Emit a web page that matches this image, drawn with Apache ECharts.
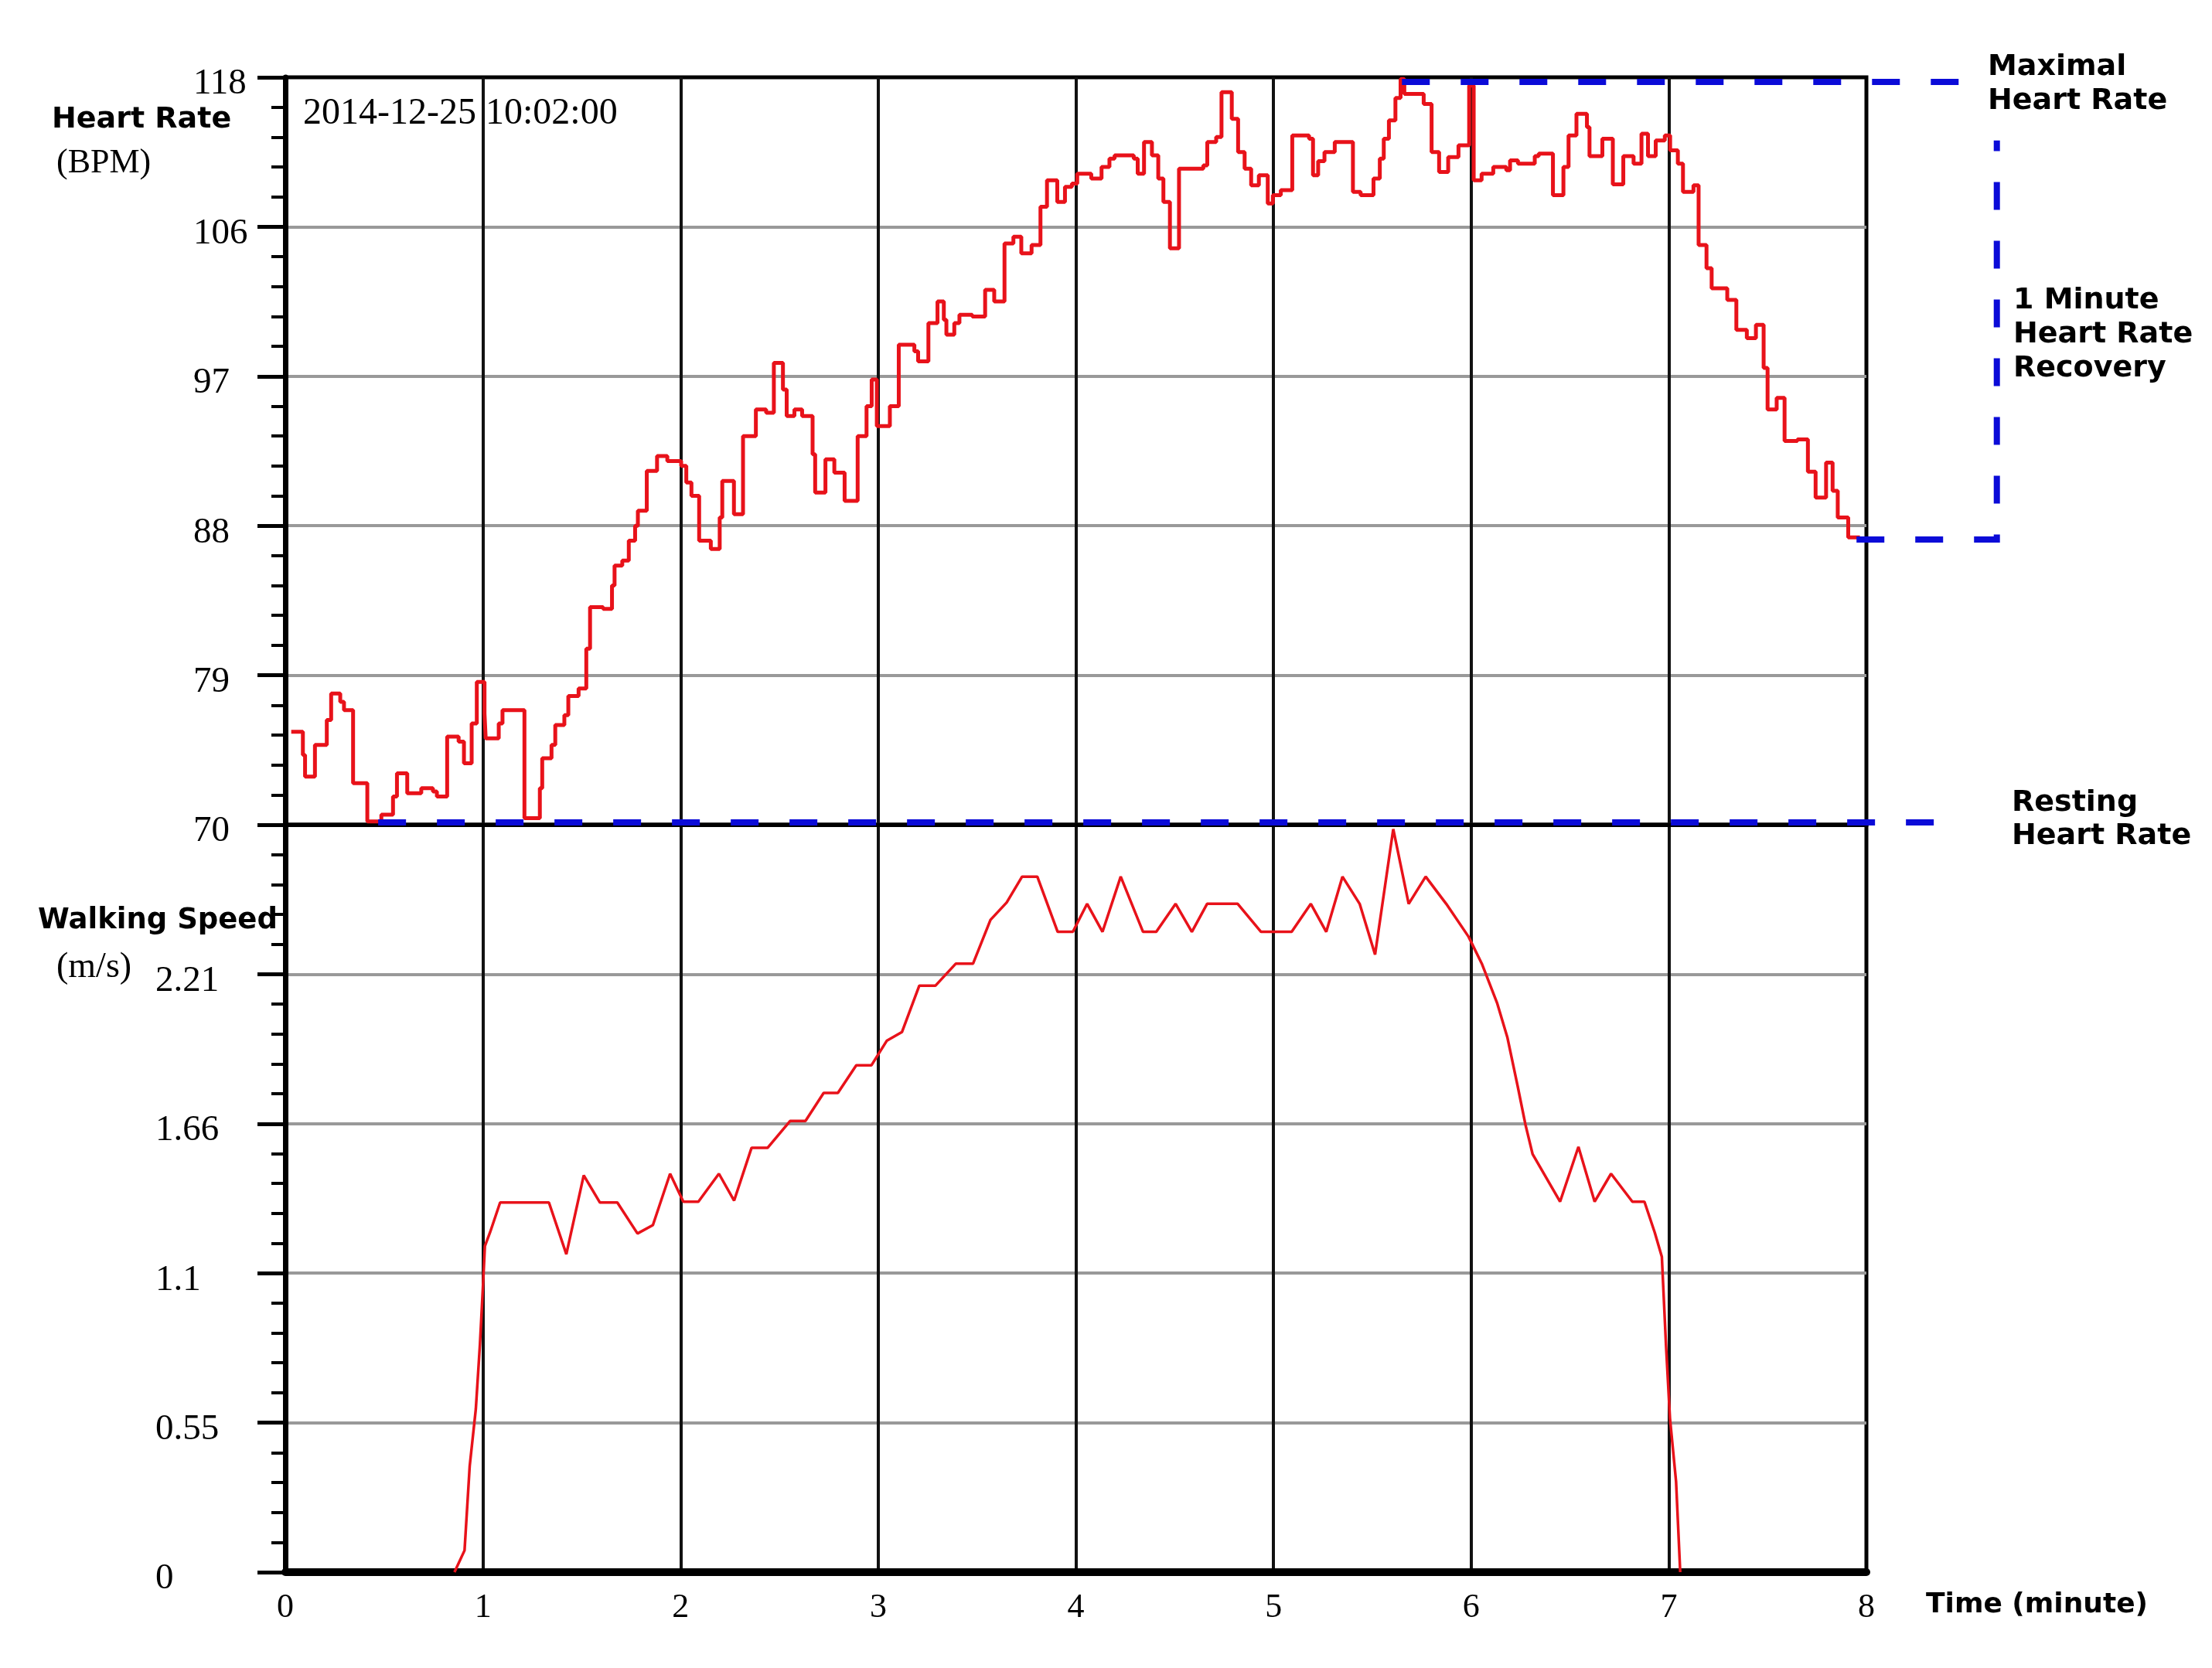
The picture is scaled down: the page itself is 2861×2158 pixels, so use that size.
<!DOCTYPE html>
<html><head><meta charset="utf-8">
<script src="https://cdn.jsdelivr.net/npm/echarts@6/dist/echarts.min.js"></script>
<style>html,body{margin:0;padding:0;background:#fff}#c{width:2861px;height:2158px}</style>
</head><body><div id="c"></div>
<script>
const timeTicks = ['0','1','2','3','4','5','6','7','8'];
const hrTickLabels = ['70','79','88','97','106','118'];
const speedTickLabels = ['0','0.55','1.1','1.66','2.21',''];

// Heart rate: step samples (start time in minutes, BPM)
const hrTime = [0.03,0.089,0.10,0.15,0.21,0.232,0.278,0.297,0.343,0.415,0.486,0.545,0.565,0.617,0.688,0.747,0.767,0.819,0.877,0.904,0.943,0.969,1.008,1.014,1.08,1.099,1.21,1.288,1.30,1.347,1.366,1.412,1.432,1.484,1.523,1.542,1.608,1.653,1.666,1.705,1.738,1.77,1.784,1.829,1.881,1.933,2.003,2.029,2.055,2.094,2.153,2.198,2.211,2.27,2.316,2.381,2.433,2.472,2.518,2.537,2.576,2.615,2.668,2.681,2.733,2.778,2.83,2.896,2.941,2.967,2.993,3.059,3.104,3.183,3.202,3.254,3.30,3.332,3.345,3.385,3.411,3.476,3.541,3.587,3.639,3.684,3.724,3.776,3.821,3.854,3.906,3.945,3.98,4.007,4.078,4.13,4.17,4.196,4.293,4.313,4.345,4.385,4.417,4.443,4.476,4.522,4.645,4.665,4.71,4.737,4.789,4.821,4.854,4.887,4.926,4.971,4.997,5.037,5.095,5.18,5.2,5.226,5.258,5.31,5.402,5.441,5.506,5.538,5.558,5.584,5.617,5.643,5.662,5.76,5.8,5.838,5.884,5.936,5.99,6.013,6.053,6.112,6.178,6.197,6.237,6.322,6.342,6.414,6.467,6.493,6.533,6.586,6.599,6.664,6.717,6.77,6.822,6.862,6.895,6.934,6.98,7.007,7.046,7.072,7.125,7.151,7.191,7.217,7.296,7.342,7.395,7.441,7.48,7.5,7.546,7.586,7.651,7.704,7.743,7.796,7.829,7.855,7.908,7.967];
const hrValue = [75.6,74.2,72.9,74.8,76.3,77.9,77.4,76.9,72.5,70.2,70.6,71.7,73.1,71.9,72.2,72.0,71.7,75.3,75.0,73.7,76.1,78.6,76.7,75.2,76.1,76.9,70.4,72.2,74.0,74.8,76.0,76.6,77.75,78.2,80.6,83.1,83.0,84.4,85.6,85.9,87.1,88.0,88.9,91.3,92.2,91.9,91.6,90.6,89.8,87.1,86.6,88.5,90.7,88.7,93.4,95.0,94.8,97.8,96.2,94.6,95.0,94.6,92.3,90.0,92.0,91.2,89.5,93.4,95.2,96.8,94.0,95.2,98.9,98.5,97.9,100.2,101.5,100.4,99.5,100.2,100.7,100.6,102.2,101.5,105.0,105.4,104.4,104.9,107.2,108.8,107.5,108.4,108.6,109.2,108.9,109.6,110.1,110.3,110.1,109.2,111.1,110.3,108.9,107.5,104.7,109.5,109.7,111.1,111.4,114.1,112.5,110.5,109.5,108.5,109.1,107.4,107.9,108.2,111.5,111.3,109.1,109.95,110.5,111.1,108.1,107.9,108.9,110.1,111.3,112.4,113.75,114.9,114.0,113.4,110.5,109.3,110.2,110.9,114.5,108.8,109.2,109.6,109.4,110.0,109.8,110.25,110.4,107.9,109.6,111.5,112.8,112.0,110.25,111.3,108.55,110.25,109.8,111.6,110.25,111.2,111.5,110.6,109.8,108.1,108.5,104.9,103.5,102.3,101.6,99.8,99.3,100.1,97.5,95.0,95.7,93.1,93.2,91.25,89.7,91.8,90.1,88.5,87.3,87.3];

// Walking speed (minutes, m/s)
const speedTime = [0.856,0.907,0.933,0.964,0.985,1.0,1.01,1.036,1.087,1.334,1.422,1.51,1.592,1.68,1.782,1.86,1.947,2.014,2.09,2.194,2.271,2.359,2.44,2.554,2.632,2.724,2.796,2.889,2.966,3.043,3.12,3.208,3.29,3.393,3.48,3.568,3.65,3.728,3.805,3.908,3.985,4.057,4.135,4.227,4.34,4.407,4.505,4.587,4.664,4.819,4.937,5.092,5.189,5.267,5.349,5.436,5.514,5.606,5.684,5.77,5.874,5.987,6.054,6.131,6.183,6.235,6.275,6.311,6.45,6.543,6.625,6.708,6.816,6.877,6.929,6.965,6.986,7.006,7.037,7.058];
const speedValue = [0,0.08,0.39,0.60,0.84,1.05,1.20,1.25,1.36,1.36,1.17,1.46,1.36,1.36,1.246,1.277,1.466,1.363,1.363,1.466,1.367,1.561,1.561,1.66,1.66,1.763,1.763,1.865,1.865,1.955,1.987,2.158,2.158,2.239,2.239,2.40,2.464,2.559,2.559,2.356,2.356,2.459,2.356,2.559,2.356,2.356,2.459,2.356,2.459,2.459,2.356,2.356,2.459,2.356,2.559,2.459,2.272,2.734,2.459,2.559,2.459,2.338,2.239,2.095,1.969,1.79,1.646,1.538,1.363,1.565,1.363,1.466,1.363,1.363,1.25,1.16,0.836,0.567,0.333,0];

// Reference lines (minutes, BPM)
const maxHRLine = [[5.65,114.72],[8.5,114.72]];
const restHRLine = [[0.47,70.14],[8.47,70.14]];
const recoveryLine = [[7.95,87.17],[8.66,87.17],[8.66,111.2]];

const hrData = hrTime.map((t,i)=>[t,hrValue[i]]);
const speedData = speedTime.map((t,i)=>[t,speedValue[i]]);

const BLUE = '#0b0bd8';
const RED = '#e8121a';
const serif = '"Liberation Serif","Times New Roman",serif';
const sans = '"DejaVu Sans",Verdana,sans-serif';

const chart = echarts.init(document.getElementById('c'), null, {renderer:'canvas'});

function yAxisCommon(){
  return {
    type:'value', splitNumber:5,
    axisLine:{show:true,onZero:false,lineStyle:{color:'#000',width:7}},
    axisTick:{show:true,length:36,lineStyle:{color:'#000',width:5}},
    minorTick:{show:true,splitNumber:5,length:18,lineStyle:{color:'#000',width:4}},
    minorSplitLine:{show:false},
    splitLine:{show:true,showMinLine:false,showMaxLine:false,lineStyle:{color:'#999',width:4}}
  };
}
const hrY = Object.assign(yAxisCommon(), {
  gridIndex:0, min:70, max:115, interval:9,
  axisLabel:{show:true, align:'left', verticalAlign:'top', lineHeight:18, margin:119, fontFamily:serif, fontSize:47, color:'#000',
    formatter:v=>hrTickLabels[Math.round((v-70)/9)]}
});
const spY = Object.assign(yAxisCommon(), {
  gridIndex:1, min:0, max:2.75, interval:0.55,
  axisLabel:{show:true, align:'left', verticalAlign:'top', lineHeight:18, margin:168, fontFamily:serif, fontSize:47, color:'#000',
    formatter:v=>speedTickLabels[Math.round(v/0.55)]}
});

const xCommon = {
  type:'value', min:0, max:8, interval:1,
  axisTick:{show:false},
  splitLine:{show:true,showMinLine:false,showMaxLine:false,lineStyle:{color:'#111',width:4}}
};

function txt(x,y,text,font,va,lh){
  return {type:'text', x, y, silent:true, z:100,
    style:{text, font, fill:'#000', align:'left', verticalAlign:va||'middle', lineHeight:lh||undefined}};
}

chart.setOption({
  animation:false,
  backgroundColor:'#fff',
  grid:[
    {left:369, top:100, width:2045, height:967, show:true, borderColor:'#000', borderWidth:5, containLabel:false},
    {left:369, top:1067, width:2045, height:967, show:true, borderColor:'#000', borderWidth:5, containLabel:false}
  ],
  xAxis:[
    Object.assign({}, xCommon, {gridIndex:0, axisLine:{show:true,lineStyle:{color:'#000',width:5}}, axisLabel:{show:false}}),
    Object.assign({}, xCommon, {gridIndex:1, axisLine:{show:true,lineStyle:{color:'#000',width:10}},
      axisLabel:{show:true, margin:24, fontFamily:serif, fontSize:44, color:'#000', formatter:v=>timeTicks[Math.round(v)]}})
  ],
  yAxis:[hrY, spY],
  series:[
    {type:'line', xAxisIndex:0, yAxisIndex:0, data:hrData, step:'end', symbol:'none', z:3,
      lineStyle:{color:RED,width:5}},
    {type:'line', xAxisIndex:1, yAxisIndex:1, data:speedData, symbol:'none', z:3,
      lineStyle:{color:RED,width:3.5}}
  ]
});

function dashedPolyline(pts){
  const points = pts.map(p=>chart.convertToPixel({xAxisIndex:0,yAxisIndex:0}, p));
  return {type:'polyline', silent:true, z:50, shape:{points},
    style:{stroke:BLUE, lineWidth:8, lineDash:[36,40], fill:null}};
}

chart.setOption({
  graphic:[
    dashedPolyline(maxHRLine),
    dashedPolyline(restHRLine),
    dashedPolyline(recoveryLine),
    txt(392,147,'2014-12-25 10:02:00','48px '+serif),
    txt(67,155,'Heart Rate','bold 38px '+sans),
    txt(73,211,'(BPM)','44px '+serif),
    txt(49,1191,'Walking Speed','bold 37px '+sans),
    txt(73,1252,'(m/s)','46px '+serif),
    txt(2571,65,'Maximal\nHeart Rate','bold 38px '+sans,'top',44),
    txt(2604,367,'1 Minute\nHeart Rate\nRecovery','bold 38px '+sans,'top',44),
    txt(2602,1018,'Resting\nHeart Rate','bold 38px '+sans,'top',43),
    txt(2491,2077,'Time (minute)','bold 36px '+sans)
  ]
});
</script></body></html>
